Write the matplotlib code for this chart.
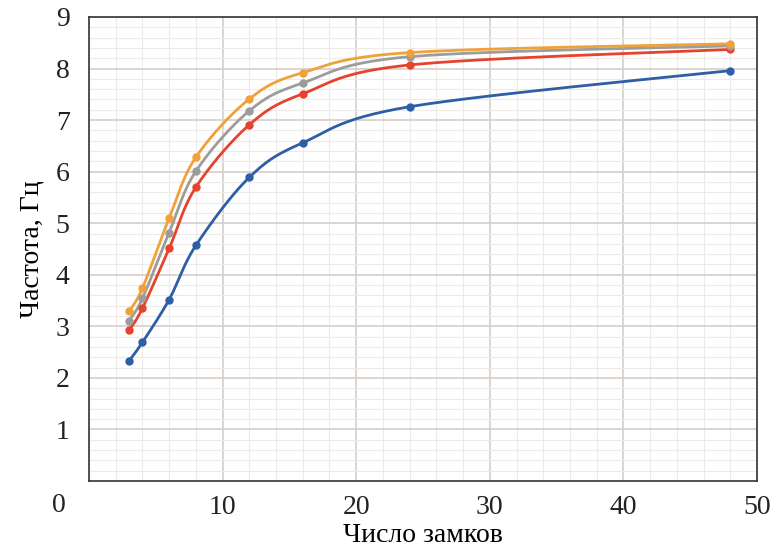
import numpy as np
import matplotlib
matplotlib.use("Agg")
import matplotlib.pyplot as plt
from matplotlib.ticker import MultipleLocator

# Number of locks and frequency (Hz) for four series
locks = [3, 4, 6, 8, 12, 16, 24, 48]
freq_blue = [2.33, 2.69, 3.52, 4.57, 5.89, 6.56, 7.26, 7.96]
freq_red = [2.92, 3.35, 4.51, 5.70, 6.91, 7.51, 8.07, 8.37]
freq_gray = [3.11, 3.54, 4.82, 6.01, 7.18, 7.72, 8.23, 8.44]
freq_orange = [3.29, 3.74, 5.10, 6.28, 7.41, 7.92, 8.31, 8.48]

colors = ["#2d5ea6", "#e5432d", "#9c9c9c", "#f0a23a"]

# approximate pixel scale of the axes, used so the smoothing is done in screen space
XSCALE = 668 / 50
YSCALE = 464 / 9


def smooth(x, y, steps=30):
    """Bezier smoothing (spreadsheet style), computed in screen space."""
    x = np.asarray(x, float) * XSCALE
    y = np.asarray(y, float) * YSCALE
    pts = np.column_stack([x, y])
    pts = np.vstack([pts[0], pts, pts[-1]])
    t = np.linspace(0, 1, steps)[:, None]
    out = []
    for i in range(1, len(pts) - 2):
        p0, p1, p2, p3 = pts[i - 1], pts[i], pts[i + 1], pts[i + 2]
        c1 = p1 + (p2 - p0) / 6
        c2 = p2 - (p3 - p1) / 6
        seg = ((1 - t) ** 3) * p1 + 3 * ((1 - t) ** 2) * t * c1 \
            + 3 * (1 - t) * t ** 2 * c2 + t ** 3 * p2
        out.append(seg)
    out = np.vstack(out)
    return out[:, 0] / XSCALE, out[:, 1] / YSCALE


plt.rcParams["font.family"] = ["Liberation Serif", "DejaVu Serif"]

fig = plt.figure(figsize=(7.72, 5.48), dpi=100)
ax = fig.add_axes([89 / 772, 67 / 548, 668 / 772, 464 / 548])

for series, c in zip([freq_blue, freq_red, freq_gray, freq_orange], colors):
    sx, sy = smooth(locks, series)
    ax.plot(sx, sy, color=c, linewidth=2, zorder=3)
    ax.plot(locks, series, "o", color=c, markersize=5, zorder=4)

ax.set_xlim(0, 50)
ax.set_ylim(0, 9)
ax.xaxis.set_major_locator(MultipleLocator(10))
ax.xaxis.set_minor_locator(MultipleLocator(2))
ax.yaxis.set_major_locator(MultipleLocator(1))
ax.yaxis.set_minor_locator(MultipleLocator(0.2))
ax.grid(which="major", color="#d6cecb", linewidth=1.2)
ax.grid(which="minor", color="#eeeae8", linewidth=0.8)
ax.set_axisbelow(True)

ax.set_xticks([10, 20, 30, 40, 50])
ax.set_yticks(range(1, 10))
ax.tick_params(which="both", length=0, labelsize=20, colors="#222222")
ax.tick_params(axis="x", pad=10)
ax.tick_params(axis="y", pad=14)
# shared origin label sits at the lower-left corner
ax.text(-0.035, -0.025, "0", transform=ax.transAxes, fontsize=20,
        ha="right", va="top", color="#222222")

for s in ax.spines.values():
    s.set_color("#333333")
    s.set_linewidth(1.2)

ax.set_xlabel("Число замков", fontsize=20, labelpad=2)
ax.set_ylabel("Частота, Гц", fontsize=20, labelpad=8)

fig.savefig("out.png", dpi=100)
